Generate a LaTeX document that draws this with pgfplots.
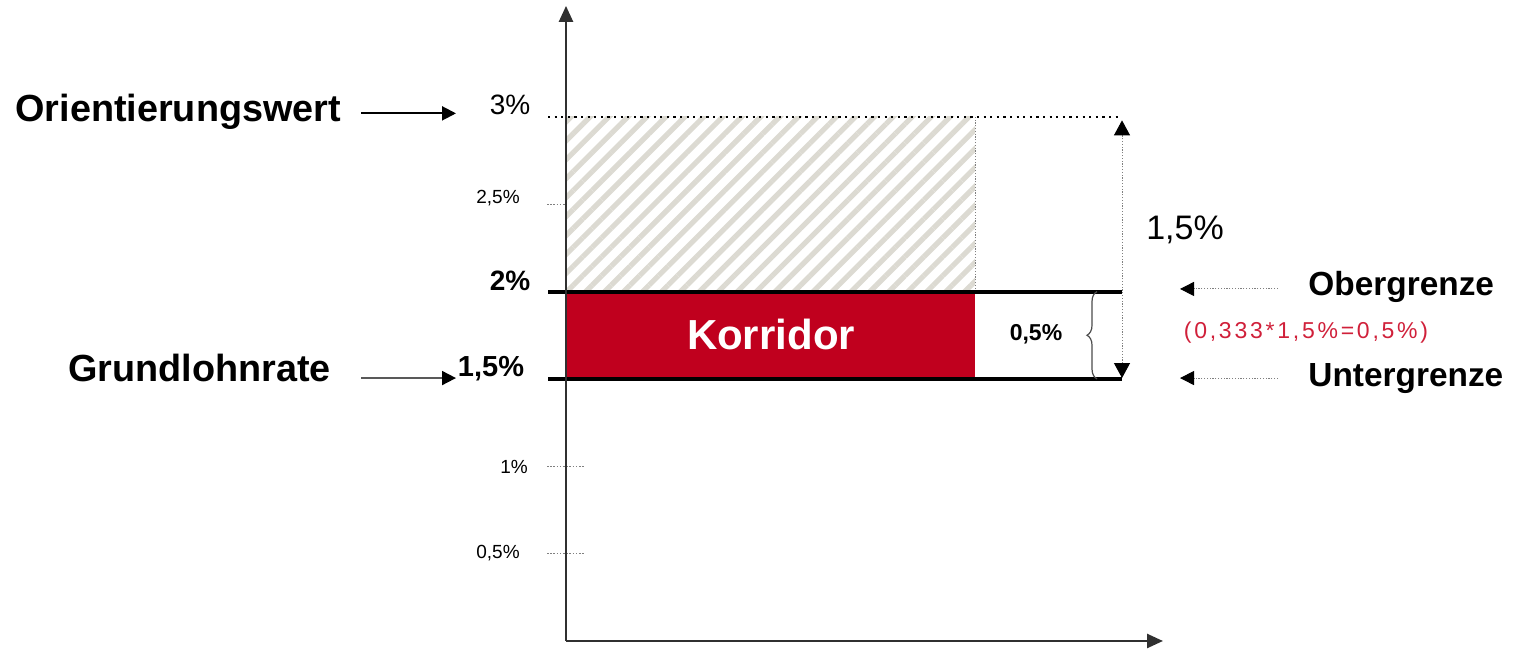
\documentclass[border=0pt]{standalone}
\usepackage{pgfplots}
\pgfplotsset{compat=1.18}
\usepackage{fontspec}
\setmainfont{Liberation Sans}
\newfontfamily\spaced[LetterSpace=12]{Liberation Sans}
\usetikzlibrary{arrows.meta,patterns.meta,decorations.pathreplacing}
\definecolor{korr}{HTML}{C0001E}
\definecolor{hatch}{HTML}{DCDAD2}
\definecolor{redtxt}{HTML}{D0203A}
\definecolor{axgray}{HTML}{303030}
\newcommand{\fs}[1]{\fontsize{#1}{#1}\selectfont}
\begin{document}
\begin{tikzpicture}
\begin{axis}[scale only axis, width=756.5pt, height=325pt,
  xmin=0, xmax=1513, ymin=-0.0515, ymax=3.669, hide axis, clip=false]
\path (axis cs:0,-0.0515) rectangle (axis cs:1513,3.669);
% hatched area
\addplot[draw=none, pattern={Lines[angle=45,distance=6.7pt,line width=2.6pt]}, pattern color=hatch]
  coordinates {(567,2) (975,2) (975,3) (567,3)} -- cycle;
% red corridor
\addplot[draw=none, fill=korr] coordinates {(567,1.5) (975,1.5) (975,2) (567,2)} -- cycle;
% vertical dotted line at right edge of hatch
\addplot[gray, line width=0.5pt, dash pattern=on 0.6pt off 0.8pt] coordinates {(975,2) (975,3)};
% dotted line at 3%
\addplot[black, line width=1.1pt, dash pattern=on 1.1pt off 2.2pt] coordinates {(548,3) (1122,3)};
% small dotted ticks
\addplot[gray, line width=0.5pt, dash pattern=on 0.8pt off 0.8pt] coordinates {(547,2.5) (566,2.5)};
\addplot[gray, line width=0.5pt, dash pattern=on 0.8pt off 0.8pt] coordinates {(547,1) (585,1)};
\addplot[gray, line width=0.5pt, dash pattern=on 0.8pt off 0.8pt] coordinates {(547,0.5) (585,0.5)};
% thick lines at 2% and 1.5%
\addplot[black, line width=2pt] coordinates {(548,2) (1122,2)};
\addplot[black, line width=2pt] coordinates {(548,1.5) (1122,1.5)};
% axes
\draw[axgray, line width=1.25pt, -{Triangle[length=8pt,width=7pt]}] (axis cs:566,0) -- (axis cs:566,3.635);
\draw[axgray, line width=1.25pt, -{Triangle[length=8pt,width=7pt]}] (axis cs:566,0) -- (axis cs:1163,0);
% double arrow 1.5%
\draw[gray, line width=0.5pt, dash pattern=on 0.6pt off 0.8pt,
  {Triangle[length=7.5pt,width=8pt,black]}-{Triangle[length=7.5pt,width=8pt,black]}]
  (axis cs:1122,1.505) -- (axis cs:1122,2.98);
% brace
\draw[gray!60!black, line width=0.6pt, decorate, decoration={brace, amplitude=5pt}]
  (axis cs:1097,1.5) -- (axis cs:1097,2);
% left arrows
\draw[black, line width=1pt, -{Triangle[length=7pt,width=7pt,black]}] (axis cs:361,3.02) -- (axis cs:456,3.02);
\draw[gray!70!black, line width=0.9pt, -{Triangle[length=7pt,width=7pt,black]}] (axis cs:361,1.505) -- (axis cs:456,1.505);
% right arrows
\draw[gray, line width=0.5pt, dash pattern=on 0.6pt off 0.8pt, -{Triangle[length=7pt,width=7pt,black]}] (axis cs:1278,2.015) -- (axis cs:1180,2.015);
\draw[gray, line width=0.5pt, dash pattern=on 0.6pt off 0.8pt, -{Triangle[length=7pt,width=7pt,black]}] (axis cs:1278,1.505) -- (axis cs:1180,1.505);
% texts
\node[anchor=base west, inner sep=0pt, font=\fs{18.9}\bfseries] at (axis cs:15,2.974) {Orientierungswert};
\node[anchor=base west, inner sep=0pt, font=\fs{18.9}\bfseries] at (axis cs:68,1.485) {Grundlohnrate};
\node[anchor=base west, inner sep=0pt, font=\fs{16.7}\bfseries] at (axis cs:1308,1.98) {Obergrenze};
\node[anchor=base west, inner sep=0pt, font=\fs{16.7}\bfseries] at (axis cs:1308,1.454) {Untergrenze};
\node[anchor=base, inner sep=0pt, font=\fs{21}\bfseries, text=white] at (axis cs:771,1.668) {Korridor};
\node[anchor=center, inner sep=0pt, font=\fs{11.5}\spaced, text=redtxt] at (axis cs:1306,1.763) {(0,333*1,5\%=0,5\%)};
\node[anchor=center, inner sep=0pt, font=\fs{14}] at (axis cs:510,3.068) {3\%};
\node[anchor=center, inner sep=0pt, font=\fs{9.5}] at (axis cs:498,2.536) {2,5\%};
\node[anchor=center, inner sep=0pt, font=\fs{14}\bfseries] at (axis cs:510,2.061) {2\%};
\node[anchor=center, inner sep=0pt, font=\fs{14.5}\bfseries] at (axis cs:491,1.557) {1,5\%};
\node[anchor=center, inner sep=0pt, font=\fs{9.5}] at (axis cs:514,0.996) {1\%};
\node[anchor=center, inner sep=0pt, font=\fs{9.5}] at (axis cs:498,0.504) {0,5\%};
\node[anchor=center, inner sep=0pt, font=\fs{11.5}\bfseries] at (axis cs:1036,1.757) {0,5\%};
\node[anchor=center, inner sep=0pt, font=\fs{17}] at (axis cs:1185,2.353) {1,5\%};
\end{axis}
\end{tikzpicture}
\end{document}
